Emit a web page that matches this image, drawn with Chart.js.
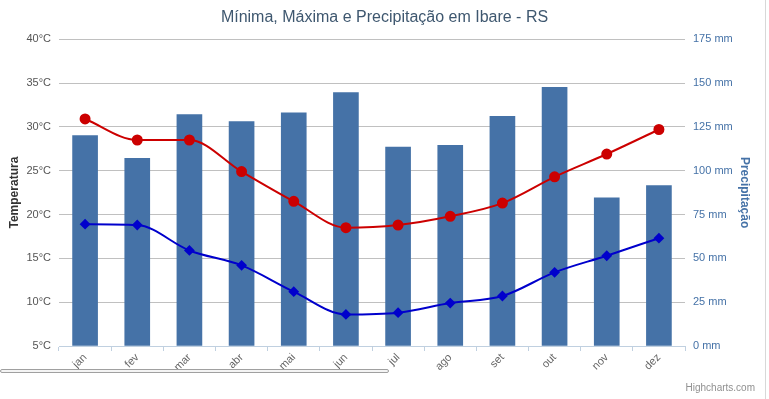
<!DOCTYPE html>
<html><head><meta charset="utf-8">
<script src="https://cdn.jsdelivr.net/npm/chart.js@4"></script>
<style>
html,body{margin:0;padding:0;background:#fff;}
#wrap{position:relative;width:769px;height:399px;overflow:hidden;}
canvas{position:absolute;left:0;top:0;}
#credits{position:absolute;right:14px;top:382px;font:10px "Liberation Sans",Arial,sans-serif;color:#909090;}
#sbar{position:absolute;left:0;top:369px;width:387px;height:2px;border:1px solid #a0a0a0;border-radius:2px;background:#f4f4f4;}
#edge{position:absolute;left:765px;top:0;width:1px;height:399px;background:#d8d8d8;}
</style></head>
<body><div id="wrap"><canvas id="c" width="769" height="399"></canvas><div id="sbar"></div><div id="edge"></div><div id="credits">Highcharts.com</div></div>
<script>
const categories = ['jan','fev','mar','abr','mai','jun','jul','ago','set','out','nov','dez'];
const precipitacao = [120, 107, 132, 128, 133, 144.5, 113.5, 114.5, 131, 147.5, 84.5, 91.5];
const maxima = [30.9, 28.5, 28.5, 24.9, 21.5, 18.5, 18.8, 19.8, 21.3, 24.3, 26.9, 29.7];
const minima = [18.9, 18.8, 15.9, 14.2, 11.2, 8.6, 8.8, 9.9, 10.7, 13.4, 15.3, 17.3];
const tempRange = [5, 40, 5];
const precRange = [0, 175, 25];

const FONT = '"Liberation Sans", Arial, Helvetica, sans-serif';
Chart.defaults.font.family = FONT;

new Chart(document.getElementById('c'), {
  data: {
    labels: categories,
    datasets: [
      { type: 'line', label: 'Máxima', data: maxima, yAxisID: 'y', borderColor: '#CC0000', backgroundColor: '#CC0000',
        borderWidth: 2, cubicInterpolationMode: 'monotone', pointRadius: 4.5, pointStyle: 'circle', order: 1 },
      { type: 'line', label: 'Mínima', data: minima, yAxisID: 'y', borderColor: '#0000CC', backgroundColor: '#0000CC',
        borderWidth: 2, cubicInterpolationMode: 'monotone', pointRadius: 4, pointStyle: 'rectRot', order: 2 },
      { type: 'bar', label: 'Precipitação', data: precipitacao, yAxisID: 'y1', backgroundColor: '#4572A7',
        barThickness: 25, order: 3 }
    ]
  },
  options: {
    responsive: false,
    animation: false,
    layout: { padding: 0 },
    plugins: {
      legend: { display: false },
      tooltip: { enabled: false },
      title: { display: true, text: 'Mínima, Máxima e Precipitação em Ibare - RS', color: '#3E576F',
        font: { size: 16, weight: 'normal', family: FONT }, padding: { top: 8, bottom: 12 } }
    },
    scales: {
      x: {
        offset: true,
        grid: { offset: true, drawOnChartArea: false, drawTicks: true, tickLength: 5, color: '#C0D0E0' },
        border: { color: '#C0D0E0' },
        ticks: { minRotation: 45, maxRotation: 45, color: '#666', font: { size: 11 }, padding: 0 },
        afterFit: s => { s.height = 53; }
      },
      y: {
        position: 'left', min: tempRange[0], max: tempRange[1],
        ticks: { stepSize: tempRange[2], callback: v => v + '°C', color: '#555', padding: 8, font: { size: 11 } },
        grid: { color: '#C0C0C0', drawTicks: false },
        border: { display: false },
        title: { display: true, text: 'Temperatura', color: '#333', font: { size: 12, weight: 'bold' }, padding: { top: 7, bottom: 4 } },
        afterFit: s => { s.width = 59; }
      },
      y1: {
        position: 'right', min: precRange[0], max: precRange[1],
        ticks: { stepSize: precRange[2], callback: v => v + ' mm', color: '#4572A7', padding: 8, font: { size: 11 } },
        grid: { drawOnChartArea: false, drawTicks: false },
        border: { display: false },
        title: { display: true, text: 'Precipitação', color: '#4572A7', font: { size: 12, weight: 'bold' }, padding: { top: 17, bottom: 4 } },
        afterFit: s => { s.width = 84; }
      }
    }
  }
});
</script>
</body></html>
